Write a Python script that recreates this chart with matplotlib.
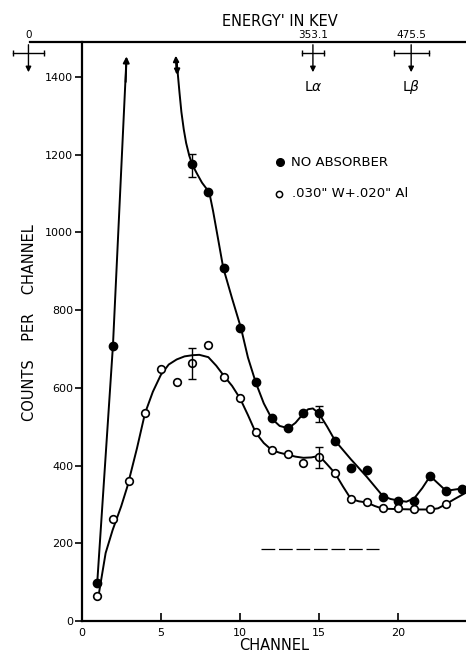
import matplotlib
matplotlib.use('Agg')
import matplotlib.pyplot as plt

# measured points
channels = [1, 2, 7, 8, 9, 10, 11, 12, 13, 14, 15, 16, 17, 18, 19, 20, 21, 22, 23, 24]
no_absorber = [99, 708, 1175, 1103, 909, 753, 614, 522, 497, 534, 534, 464, 393, 389, 320, 309, 309, 374, 334, 341]

channels_abs = [1, 2, 3, 4, 5, 6, 7, 8, 9, 10, 11, 12, 13, 14, 15, 16, 17, 18, 19, 20, 21, 22, 23]
with_absorber = [64, 262, 360, 534, 648, 615, 663, 710, 627, 573, 486, 440, 429, 407, 421, 380, 314, 306, 290, 290, 287, 287, 301]

# error bars (channel, low, high)
err_ch = [7, 15]
err_no_lo = [1142, 511]
err_no_hi = [1203, 554]
err_abs_lo = [623, 393]
err_abs_hi = [702, 449]

# hand drawn curves
rise_x = [0.99, 1.98, 2.83]
rise_y = [99, 708, 1444]

curve_no_x = [6.0, 6.08, 6.18, 6.3, 6.45, 6.6, 6.8, 7.0, 7.3, 7.6, 8.06, 8.3, 8.59, 8.94, 9.5, 10.06, 10.5,
              11.0, 11.5, 12.0, 12.5, 13.05, 13.5, 14.0, 14.3, 14.6, 15.0, 15.5, 16.0, 17.0, 18.0, 19.0,
              19.5, 20.0, 20.5, 21.0, 21.5, 22.0, 23.0, 24.0, 24.3]
curve_no_y = [1440, 1405, 1360, 1310, 1265, 1230, 1197, 1173, 1150, 1128, 1103, 1055, 989, 909, 830, 754, 678,
              613, 560, 521, 502, 496, 510, 534, 545, 547, 533, 500, 464, 416, 371, 322,
              314, 310, 307, 316, 342, 373, 335, 341, 345]

curve_abs_x = [1.1, 1.52, 1.96, 2.5, 2.89, 3.5, 4.0, 4.5, 5.0, 5.5, 6.0, 6.5, 7.0, 7.43, 8.0, 8.5, 9.0,
               9.5, 10.0, 10.5, 11.0, 11.5, 12.0, 12.5, 13.0, 13.5, 14.0, 14.5, 15.0, 15.5, 16.0, 16.5,
               17.0, 17.5, 18.0, 18.5, 19.0, 20.0, 21.0, 22.0, 22.5, 23.0, 23.5, 24.2]
curve_abs_y = [72, 175, 234, 295, 346, 445, 534, 590, 633, 660, 673, 681, 684, 685, 679, 657, 630,
               605, 573, 530, 484, 458, 440, 433, 428, 423, 420, 421, 425, 403, 380, 346,
               314, 308, 305, 296, 289, 288, 287, 287, 290, 301, 313, 329]

# energy scale markers on top
energy_labels = ['0', '353.1', '475.5']
energy_ch = [-3.35, 14.6, 20.8]
energy_halfwidth = [0.95, 0.67, 1.1]
line_names = ['', r'L$\alpha$', r'L$\beta$']

dash_x = [11.33, 18.8]
dash_y = [185, 185]

fig = plt.figure(figsize=(4.66, 6.58), dpi=100)
ax = fig.add_axes([0.175, 0.0562, 0.825, 0.88])
ax.set_xlim(0, 24.26)
ax.set_ylim(0, 1490)

lw = 1.4
ax.plot(rise_x, rise_y, color='black', lw=lw)
ax.annotate('', xy=(2.84, 1460), xytext=(2.78, 1380),
            arrowprops=dict(arrowstyle='-|>', color='black', lw=lw, mutation_scale=9))
ax.plot(curve_no_x, curve_no_y, color='black', lw=lw)
ax.annotate('', xy=(5.94, 1462), xytext=(6.0, 1405),
            arrowprops=dict(arrowstyle='-|>', color='black', lw=lw, mutation_scale=8))
ax.annotate('', xy=(6.06, 1398), xytext=(6.0, 1445),
            arrowprops=dict(arrowstyle='-|>', color='black', lw=lw, mutation_scale=8))
ax.plot(curve_abs_x, curve_abs_y, color='black', lw=lw)

ax.plot(channels, no_absorber, 'o', color='black', ms=6)
ax.plot(channels_abs, with_absorber, 'o', mfc='white', mec='black', mew=1.2, ms=5.5)

for ch, lo, hi in zip(err_ch, err_no_lo, err_no_hi):
    ax.errorbar([ch], [(lo + hi) / 2], yerr=[[(hi - lo) / 2], [(hi - lo) / 2]], fmt='none',
                ecolor='black', elinewidth=1, capsize=3, capthick=1)
for ch, lo, hi in zip(err_ch, err_abs_lo, err_abs_hi):
    ax.errorbar([ch], [(lo + hi) / 2], yerr=[[(hi - lo) / 2], [(hi - lo) / 2]], fmt='none',
                ecolor='black', elinewidth=1, capsize=3, capthick=1)

ax.plot(dash_x, dash_y, color='black', lw=0.9, dashes=(11, 3))

# legend drawn by hand like the original
ax.plot([12.52], [1181], 'o', color='black', ms=5.5)
ax.text(13.2, 1181, 'NO ABSORBER', fontsize=9.5, va='center', ha='left')
ax.plot([12.48], [1100], 'o', mfc='white', mec='black', mew=1.1, ms=4.5)
ax.text(13.3, 1100, '.030" W+.020" Al', fontsize=9.5, va='center', ha='left')

# energy axis along the top
ax.spines['top'].set_visible(False)
ax.spines['right'].set_visible(False)
ax.plot([energy_ch[0] + 0.1, 24.26], [1490, 1490], color='black', lw=1.6, clip_on=False)
for lab, x, hw, nm in zip(energy_labels, energy_ch, energy_halfwidth, line_names):
    ax.text(x, 1495, lab, fontsize=7.5, ha='center', va='bottom')
    ax.plot([x - hw, x + hw], [1462, 1462], color='black', lw=1, clip_on=False)
    ax.plot([x - hw, x + hw], [1462, 1462], '|', color='black', ms=5, mew=1, clip_on=False)
    ax.annotate('', xy=(x, 1405), xytext=(x, 1490), annotation_clip=False,
                arrowprops=dict(arrowstyle='-|>', color='black', lw=1, mutation_scale=8))
    if nm:
        ax.text(x, 1374, nm, fontsize=10, ha='center', va='center')

fig.text(280 / 466, 1 - 21 / 658, "ENERGY' IN KEV", fontsize=10.5, ha='center', va='center')

ax.set_xticks([0, 5, 10, 15, 20])
ax.set_yticks(range(0, 1401, 200))
ax.tick_params(axis='x', direction='in', length=6, width=1.2, labelsize=8, pad=5)
ax.tick_params(axis='y', direction='out', length=5, width=1.2, labelsize=8, pad=1)
for s in ['left', 'bottom']:
    ax.spines[s].set_linewidth(1.6)

ax.set_xlabel('CHANNEL', fontsize=10.5, labelpad=0)
fig.text(30 / 466, 1 - 323 / 658, 'COUNTS    PER    CHANNEL', fontsize=10.5, rotation=90,
         ha='center', va='center')

fig.savefig('out.png', dpi=100)
